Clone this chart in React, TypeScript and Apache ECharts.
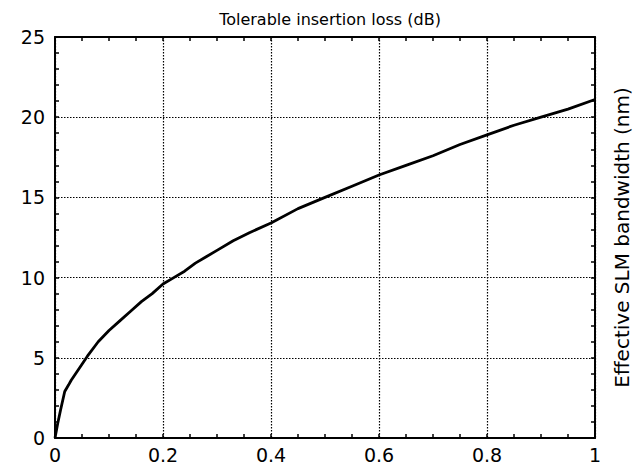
import React, { useEffect, useRef } from "react";
import * as echarts from "echarts";

const xValues = [0, 0.005, 0.01, 0.018, 0.025, 0.03, 0.04, 0.05, 0.06, 0.08, 0.1, 0.12, 0.14, 0.16, 0.18, 0.2, 0.22, 0.24, 0.26, 0.28, 0.3, 0.33, 0.36, 0.4, 0.45, 0.5, 0.55, 0.6, 0.65, 0.7, 0.75, 0.8, 0.85, 0.9, 0.95, 1.0];
const yValues = [0, 0.9, 1.7, 2.9, 3.3, 3.6, 4.1, 4.6, 5.1, 6.0, 6.7, 7.3, 7.9, 8.5, 9.0, 9.6, 10.0, 10.4, 10.9, 11.3, 11.7, 12.3, 12.8, 13.4, 14.3, 15.0, 15.7, 16.4, 17.0, 17.6, 18.3, 18.9, 19.5, 20.0, 20.5, 21.1];

const titleText = "Tolerable insertion loss (dB)";
const rightAxisName = "Effective SLM bandwidth (nm)";

const FONT = "'DejaVu Sans', 'Liberation Sans', Arial, sans-serif";

export default function App() {
  const ref = useRef<HTMLDivElement>(null);
  useEffect(() => {
    if (!ref.current) return;
    const chart = echarts.init(ref.current, null, { renderer: "svg" });
    const data = xValues.map((x, i) => [x, yValues[i]]);
    const axisLine = { show: true, onZero: false, lineStyle: { color: "#000", width: 2 } };
    const tick = { show: true, inside: true, length: 4, lineStyle: { color: "#000", width: 1.5 } };
    const gridLine = { show: true, lineStyle: { color: "#000", width: 1.2, type: [1.5, 1.5] } };
    chart.setOption({
      animation: false,
      backgroundColor: "#fff",
      title: {
        text: titleText,
        left: 325,
        textAlign: "center",
        top: 6,
        textStyle: { fontFamily: FONT, fontSize: 16, fontWeight: "normal", color: "#000" },
      },
      grid: { left: 55, right: 48, top: 37, bottom: 34, containLabel: false },
      xAxis: [
        {
          type: "value",
          position: "bottom",
          min: 0,
          max: 1,
          interval: 0.2,
          axisLine,
          axisTick: tick,
          minorTick: { show: true, splitNumber: 4, length: 4, lineStyle: { color: "#000", width: 1.5 } },
          axisLabel: { color: "#000", fontSize: 19, fontFamily: FONT, margin: 7 },
          splitLine: gridLine,
        },
        {
          type: "value",
          position: "top",
          min: 0,
          max: 1,
          interval: 0.2,
          axisLine,
          axisTick: tick,
          minorTick: { show: true, splitNumber: 4, length: 4, lineStyle: { color: "#000", width: 1.5 } },
          axisLabel: { show: false },
          splitLine: { show: false },
        },
      ],
      yAxis: [
        {
          type: "value",
          position: "left",
          min: 0,
          max: 25,
          interval: 5,
          axisLine,
          axisTick: tick,
          minorTick: { show: true, splitNumber: 5, length: 4, lineStyle: { color: "#000", width: 1.5 } },
          axisLabel: { color: "#000", fontSize: 19, fontFamily: FONT, margin: 10 },
          splitLine: gridLine,
        },
        {
          type: "value",
          position: "right",
          min: 0,
          max: 25,
          interval: 5,
          axisLine,
          axisTick: tick,
          minorTick: { show: true, splitNumber: 5, length: 4, lineStyle: { color: "#000", width: 1.5 } },
          axisLabel: { show: false },
          splitLine: { show: false },
          name: rightAxisName,
          nameLocation: "middle",
          nameRotate: 90,
          nameGap: 17,
          nameTextStyle: { color: "#000", fontSize: 20, fontFamily: FONT },
        },
      ],
      series: [
        {
          type: "line",
          xAxisIndex: 0,
          yAxisIndex: 0,
          data,
          showSymbol: false,
          smooth: false,
          lineStyle: { color: "#000", width: 2.8 },
        },
      ],
    });
    return () => chart.dispose();
  }, []);
  return <div ref={ref} style={{ width: 643, height: 472, margin: -8 }} />;
}
